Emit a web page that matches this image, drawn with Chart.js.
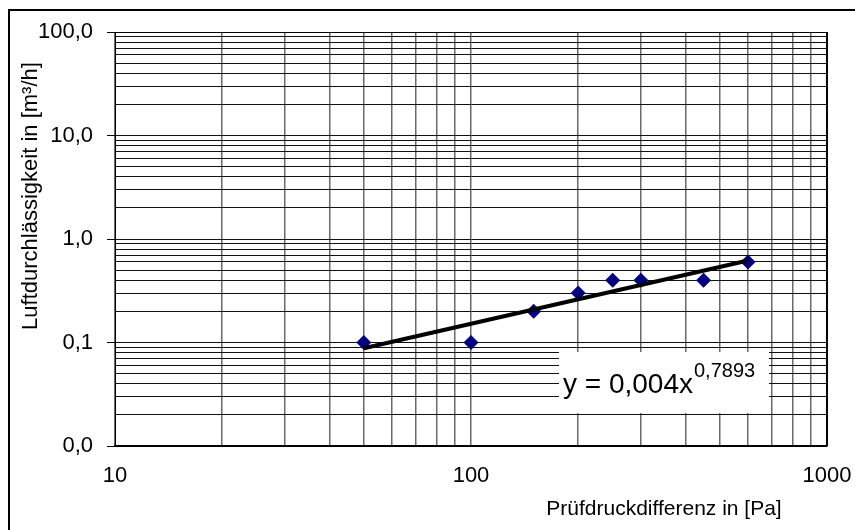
<!DOCTYPE html>
<html><head><meta charset="utf-8">
<script src="https://cdn.jsdelivr.net/npm/chart.js@4/dist/chart.umd.min.js"></script>
<style>html,body{margin:0;padding:0;background:#fff}#wrap{position:relative;width:855px;height:530px}</style>
</head><body><div id="wrap"><canvas id="c"></canvas></div>
<script>
// ---- data ----
const pressureDiff = [50, 100, 150, 200, 250, 300, 450, 600];
const airFlow = [0.1, 0.1, 0.2, 0.3, 0.4, 0.4, 0.4, 0.6];
const trendX = [50, 600];
const trendY = [0.088, 0.62];
const xMajorTicks = [10, 100, 1000];
const xTickLabels = ['10', '100', '1000'];
const yMajorTicks = [0.01, 0.1, 1, 10, 100];
const yTickLabels = ['0,0', '0,1', '1,0', '10,0', '100,0'];
const minorMultipliers = [2, 3, 4, 5, 6, 7, 8, 9];
const xTitle = 'Prüfdruckdifferenz in [Pa]';
const yTitle = 'Luftdurchlässigkeit in [m³/h]';
const eqMain = 'y = 0,004x';
const eqExp = '0,7893';

const FONT = '"Liberation Sans", Arial, sans-serif';

function buildTicks(majors) {
  const t = [];
  majors.forEach((m, i) => {
    t.push({ value: m, major: true });
    if (i < majors.length - 1) minorMultipliers.forEach(k => t.push({ value: m * k, major: false }));
  });
  return t.sort((a, b) => a.value - b.value);
}
function labelFor(majors, labels) {
  return (v) => { const i = majors.indexOf(v); return i >= 0 ? labels[i] : ''; };
}

const decor = {
  id: 'decor',
  beforeDatasetsDraw(chart) {
    const { ctx, chartArea: a } = chart;
    ctx.save();
    ctx.strokeStyle = '#000';
    ctx.lineWidth = 1;
    ctx.beginPath(); ctx.moveTo(a.left, a.top + 0.5); ctx.lineTo(a.right, a.top + 0.5); ctx.stroke();
    ctx.lineWidth = 2;
    ctx.beginPath(); ctx.moveTo(a.right, a.top); ctx.lineTo(a.right, a.bottom); ctx.stroke();
    // equation box
    const bx = a.left + 444, by = a.top + 320, bw = 210, bh = 61;
    ctx.fillStyle = '#fff';
    ctx.fillRect(bx, by, bw, bh);
    ctx.fillStyle = '#000';
    ctx.textAlign = 'left';
    ctx.textBaseline = 'alphabetic';
    ctx.font = '28px ' + FONT;
    ctx.fillText(eqMain, bx + 4, by + 41);
    const w = ctx.measureText(eqMain).width;
    ctx.font = '20px ' + FONT;
    ctx.fillText(eqExp, bx + 5 + w, by + 25);
    ctx.restore();
  },
  afterDraw(chart) {
    const { ctx } = chart;
    ctx.save();
    ctx.strokeStyle = '#000';
    ctx.lineWidth = 2;
    ctx.strokeRect(9, 10, 1000, 1000);
    ctx.fillStyle = '#000';
    ctx.font = '21px ' + FONT;
    ctx.textAlign = 'center';
    ctx.textBaseline = 'alphabetic';
    ctx.fillText(xTitle, 664, 515);
    ctx.translate(31, 196);
    ctx.rotate(-Math.PI / 2);
    ctx.font = '22px ' + FONT;
    ctx.textBaseline = 'middle';
    ctx.fillText(yTitle, 0, 0);
    ctx.restore();
  }
};

new Chart(document.getElementById('c'), {
  type: 'scatter',
  data: {
    datasets: [
      {
        type: 'line',
        data: trendX.map((x, i) => ({ x, y: trendY[i] })),
        borderColor: '#000',
        borderWidth: 4,
        pointRadius: 0,
        fill: false,
        order: 0
      },
      {
        data: pressureDiff.map((x, i) => ({ x, y: airFlow[i] })),
        pointStyle: 'rectRot',
        pointRadius: 7.5,
        pointHoverRadius: 7.5,
        backgroundColor: '#000080',
        borderColor: '#000080',
        borderWidth: 0,
        order: 1
      }
    ]
  },
  options: {
    responsive: true,
    maintainAspectRatio: false,
    animation: false,
    events: [],
    layout: { padding: { top: 32, right: 28, left: 0, bottom: 0 } },
    plugins: { legend: { display: false }, tooltip: { enabled: false } },
    scales: {
      x: {
        type: 'logarithmic',
        min: 10, max: 1000,
        afterBuildTicks: s => { s.ticks = buildTicks(xMajorTicks); },
        afterFit: s => { s.height = 84; s.paddingRight = 0; s.paddingLeft = 0; },
        ticks: {
          autoSkip: false, maxRotation: 0,
          color: '#000', padding: 17,
          font: { family: FONT, size: 22 },
          callback: labelFor(xMajorTicks, xTickLabels)
        },
        grid: { color: '#6a6a6a', lineWidth: 1.5, drawTicks: false },
        border: { display: true, color: '#000', width: 2 }
      },
      y: {
        type: 'logarithmic',
        min: 0.01, max: 100,
        afterBuildTicks: s => { s.ticks = buildTicks(yMajorTicks); },
        afterFit: s => { s.width = 115; s.paddingTop = 0; s.paddingBottom = 0; },
        ticks: {
          autoSkip: false,
          color: '#000', padding: 14,
          font: { family: FONT, size: 22 },
          callback: labelFor(yMajorTicks, yTickLabels)
        },
        grid: {
          color: '#111', lineWidth: 1,
          drawTicks: true, tickLength: 8,
          tickColor: c => (c.tick && c.tick.major) ? '#000' : 'rgba(0,0,0,0)'
        },
        border: { display: true, color: '#000', width: 1 }
      }
    }
  },
  plugins: [decor]
});
</script>
</body></html>
